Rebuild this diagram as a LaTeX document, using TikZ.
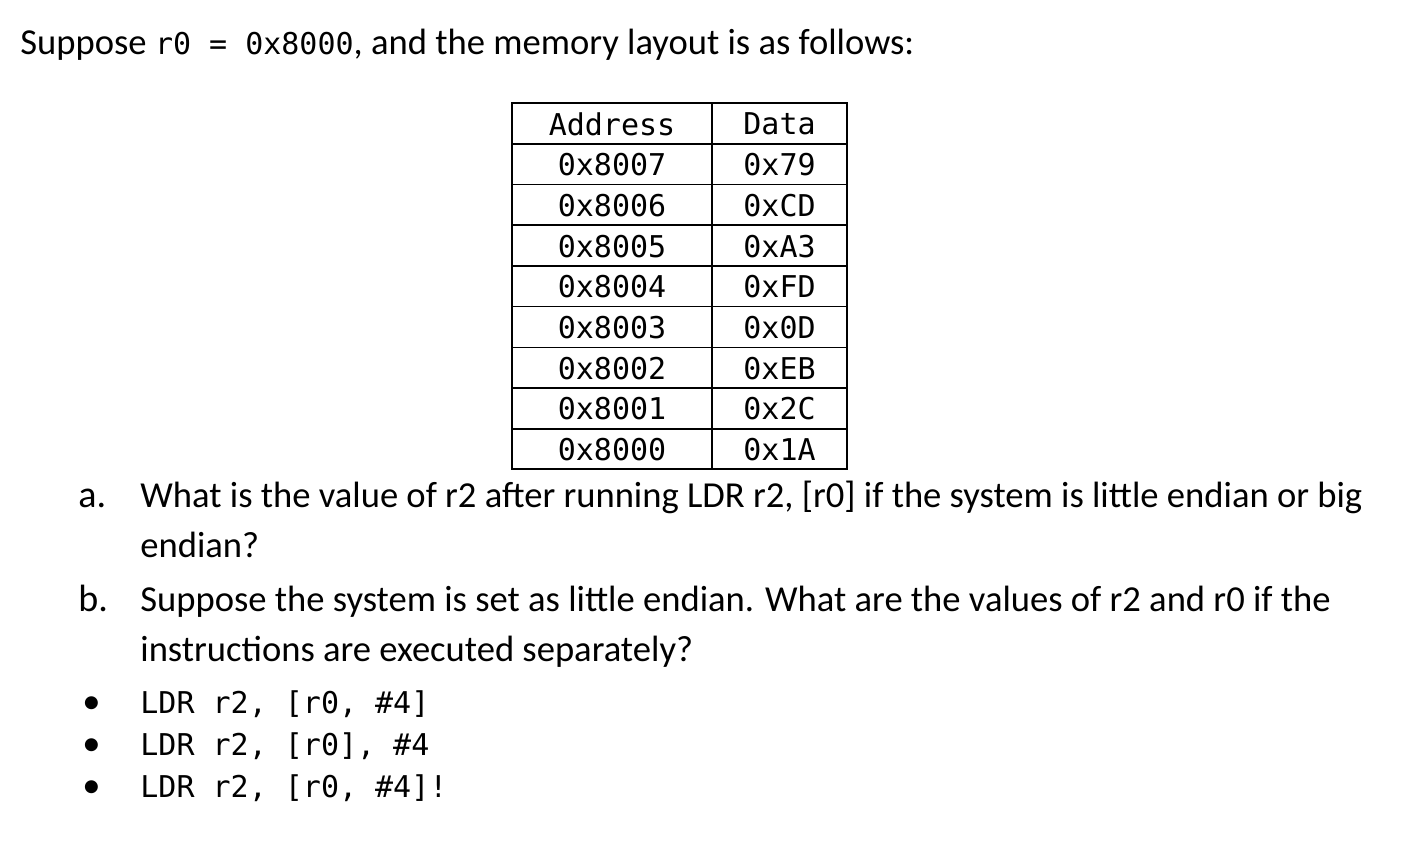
\documentclass[tikz,border=0pt]{standalone}
\usepackage{fontspec}
\setmainfont{Carlito}
\setmonofont{DejaVu Sans Mono}
\usetikzlibrary{positioning}

\begin{document}
\begin{tikzpicture}[x=0.5pt,y=-0.5pt]

\tikzset{txt/.style={anchor=base west,inner sep=0pt,font=\fontsize{18.3}{21}\selectfont},
cell/.style={anchor=center,inner sep=0pt,font=\ttfamily\fontsize{15}{17}\selectfont},
code/.style={anchor=base west,inner sep=0pt,font=\ttfamily\fontsize{15}{17}\selectfont}}

\useasboundingbox (0,0) rectangle (1422,840);

% Intro line
\node[txt] (intro) at (20,55) {Suppose \texttt{\fontsize{15}{17}\selectfont r0 = 0x8000}, and the memory layout is as follows:};

% Table
\draw[thick] (512,103) rectangle (847,469);
\draw[thick] (712,103) -- (712,469);
\foreach \y in {143.7,184.4,225.1,265.8,306.6,347.3,388,428.7} \draw[thick] (512,\y) -- (847,\y);
\node[cell] (hAddr) at (612,124) {Address};
\node[cell] (hData) at (779.5,124) {Data};
\foreach \a/\d [count=\i] in {0x8007/0x79,0x8006/0xCD,0x8005/0xA3,0x8004/0xFD,0x8003/0x0D,0x8002/0xEB,0x8001/0x2C,0x8000/0x1A}
{
  \node[cell] (addr\i) at (612,124+40.7*\i) {\a};
  \node[cell] (data\i) at (779.5,124+40.7*\i) {\d};
}

% Questions
\node[txt,font=\fontsize{19}{21}\selectfont] (qa) at (78,507) {a.};
\node[txt] (qaT) at (140,507) {What is the value of r2 after running LDR r2, [r0] if the system is little endian or big};
\node[txt] (qaT2) at (140,557) {endian?};
\node[txt,font=\fontsize{19}{21}\selectfont] (qb) at (78,611) {b.};
\node[txt] (qbT) at (140,611) {Suppose the system is set as little endian. What are the values of r2 and r0 if the};
\node[txt] (qbT2) at (140,661) {instructions are executed separately?};

% Instructions
\foreach \c/\y [count=\i] in {{LDR r2, [r0, \#4]}/713,{LDR r2, [r0], \#4}/755,{LDR r2, [r0, \#4]!}/797}
{
  \node[txt] (dot\i) at (82,\y) {\textbullet};
  \node[code] (ins\i) at (140,\y) {\c};
}

\end{tikzpicture}
\end{document}
